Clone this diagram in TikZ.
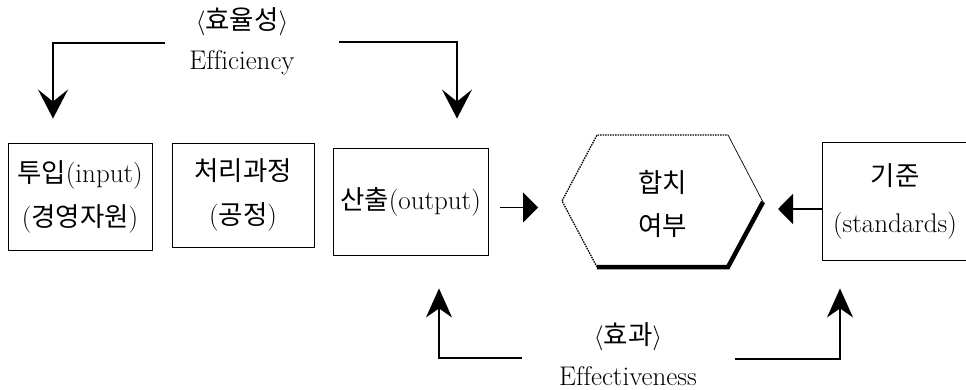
\documentclass[tikz,border=0pt]{standalone}
\usepackage{fontspec}
\setmainfont{Latin Modern Roman}[Ligatures=CommonOff]
\newfontfamily\kr{Noto Sans CJK KR}[Scale=0.98]
\usetikzlibrary{arrows.meta}
\begin{document}
\begin{tikzpicture}[x=1pt,y=-1pt,
  txt/.style={font=\fontsize{27}{44}\selectfont, align=center, inner sep=0pt},
  box/.style={draw, line width=0.9pt, txt},
  conn/.style={line width=1.2pt},
  headv/.style={-{Stealth[length=29pt,width=30pt,inset=12pt]}},
  headvb/.style={-{Stealth[length=29pt,width=26pt,inset=9pt]}},
  headh/.style={-{Triangle[length=15pt,width=30pt]}}]
\clip (0,0) rectangle (966,390);
\useasboundingbox (0,0) rectangle (966,390);

% boxes
\node[box, minimum width=144pt, minimum height=107pt] (inp) at (80,196.5)
  {{\kr 투입}(input)\\({\kr 경영자원})};
\node[box, minimum width=142pt, minimum height=104pt] (proc) at (243,195)
  {{\kr 처리과정}\\({\kr 공정})};
\node[box, minimum width=155pt, minimum height=107pt] (out) at (410.5,201.5)
  {{\kr 산출}(output)};
\node[box, minimum width=146pt, minimum height=118pt, font=\fontsize{27}{47}\selectfont] (std) at (895,201)
  {{\kr 기준}\\(standards)};

% hexagon
\coordinate (hl) at (562,201);
\coordinate (htl) at (597,135);
\coordinate (htr) at (728,135);
\coordinate (hr) at (763,202);
\coordinate (hbr) at (728,267);
\coordinate (hbl) at (597,267);
\node[txt, font=\fontsize{27}{43}\selectfont] (hex) at (662.5,203.5) {{\kr 합치}\\{\kr 여부}};
\draw[line width=1.3pt, dash pattern=on 1.5pt off 1pt] (hbl) -- (hl) -- (htl) -- (htr);
\draw[line width=0.7pt] (htr) -- (hr);
\draw[line width=4.5pt, line join=miter] (hr) -- (hbr) -- (hbl);

% horizontal arrows
\draw[conn, headh, shorten <=12pt, shorten >=24pt]
  ([yshift=-6pt]out.east) -- ([yshift=-6pt]out.east -| hl);
\draw[conn, headh, shorten >=15pt]
  ([yshift=-8pt]std.west) -- ([yshift=-8pt]std.west -| hr);

% efficiency
\node[txt] (effk) at (242,22) {$\langle${\kr 효율성}$\rangle$};
\node[txt] (effe) at (242,63) {Efficiency};
\coordinate (eL) at (165,43);
\coordinate (eR) at (339,42);
\draw[conn, headv, shorten >=24pt] (eL) -| ([xshift=-27pt]inp.north);
\draw[conn, headv, shorten >=29pt] (eR) -| ([xshift=46.5pt]out.north);

% effectiveness
\node[txt] (efvk) at (628,337) {$\langle${\kr 효과}$\rangle$};
\node[txt] (efve) at (628,376) {Effectiveness};
\coordinate (fL) at (522,358);
\coordinate (fR) at (735,359);
\draw[conn, headvb, shorten >=33pt] (fL) -| ([xshift=28.5pt]out.south);
\draw[conn, headvb, shorten >=28pt] (fR) -| ([xshift=-55pt]std.south);
\end{tikzpicture}
\end{document}
